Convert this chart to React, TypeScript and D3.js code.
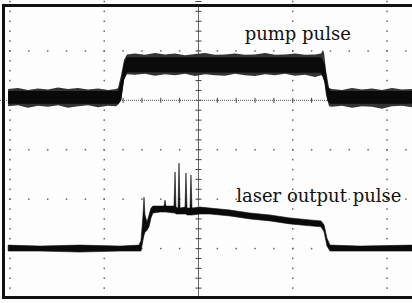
import React, { useRef, useEffect } from 'react';
import * as d3 from 'd3';

// time in screen divisions, amplitude in screen divisions (0 = marked horizontal axis)
const pumpT = [-0.02, 0.085, 0.19, 0.297, 0.403, 0.509, 0.615, 0.721, 0.828, 0.934, 1.04, 1.125, 1.146, 1.178, 1.21, 1.241,
  1.326, 1.432, 1.538, 1.645, 1.751, 1.857, 1.963, 2.069, 2.175, 2.281, 2.387, 2.493, 2.599, 2.706, 2.812, 2.918, 3.024,
  3.13, 3.236, 3.3, 3.321, 3.332, 3.353, 3.385, 3.416, 3.522, 3.629, 3.735, 3.841, 3.947, 4.053, 4.159, 4.265];
const pumpHi = [0.23, 0.25, 0.21, 0.24, 0.22, 0.26, 0.23, 0.25, 0.22, 0.24, 0.21, 0.23, 0.25, 0.51, 0.82, 0.93,
  0.95, 0.92, 0.96, 0.93, 0.95, 0.91, 0.94, 0.96, 0.92, 0.93, 0.95, 0.92, 0.93, 0.96, 0.92, 0.93, 0.95,
  0.92, 0.93, 0.95, 1.02, 0.96, 0.61, 0.25, 0.23, 0.21, 0.25, 0.22, 0.24, 0.21, 0.25, 0.22, 0.23];
const pumpLo = [-0.12, -0.1, -0.15, -0.11, -0.13, -0.1, -0.15, -0.12, -0.1, -0.14, -0.11, -0.12, -0.09, -0.01, 0.41, 0.53,
  0.52, 0.54, 0.5, 0.53, 0.51, 0.54, 0.49, 0.53, 0.51, 0.5, 0.54, 0.51, 0.49, 0.53, 0.51, 0.54, 0.5,
  0.52, 0.47, 0.51, 0.49, 0.41, 0.11, -0.12, -0.13, -0.11, -0.15, -0.12, -0.13, -0.17, -0.12, -0.11, -0.14];

// dense core of the pump trace
const pumpCoreT = [-0.02, 1.15, 1.18, 1.21, 1.24, 3.3, 3.34, 3.37, 3.4, 4.265];
const pumpCoreHi = [0.19, 0.19, 0.42, 0.75, 0.87, 0.87, 0.72, 0.3, 0.19, 0.19];
const pumpCoreLo = [-0.07, -0.07, 0.0, 0.42, 0.57, 0.56, 0.35, -0.02, -0.07, -0.07];

const laserT = [-0.02, 0.32, 0.74, 1.17, 1.37, 1.39, 1.411, 1.422, 1.432, 1.454, 1.475, 1.496, 1.517, 1.592, 1.634, 1.645,
  1.655, 1.74, 1.751, 1.761, 1.783, 1.793, 1.804, 1.857, 1.867, 1.878, 1.91, 1.92, 1.931, 2.016, 2.122, 2.334,
  2.546, 2.759, 2.971, 3.183, 3.3, 3.332, 3.363, 3.395, 3.714, 4.265];
const laserHi = [-2.93, -2.95, -2.93, -2.95, -2.93, -2.83, -2.32, -1.96, -2.32, -2.46, -2.32, -2.18, -2.14, -2.14, -2.14, -2.02,
  -2.14, -2.14, -1.45, -2.16, -2.18, -1.27, -2.18, -2.16, -1.47, -2.18, -2.18, -1.51, -2.18, -2.16, -2.18, -2.22,
  -2.28, -2.32, -2.38, -2.42, -2.44, -2.52, -2.79, -2.93, -2.95, -2.93];
const laserLo = [-3.05, -3.05, -3.07, -3.05, -3.05, -3.05, -2.83, -2.73, -2.67, -2.63, -2.56, -2.38, -2.28, -2.26, -2.26, -2.26,
  -2.26, -2.28, -2.28, -2.3, -2.3, -2.3, -2.3, -2.3, -2.3, -2.32, -2.32, -2.32, -2.32, -2.3, -2.3, -2.34,
  -2.4, -2.44, -2.5, -2.54, -2.56, -2.66, -2.95, -3.05, -3.05, -3.05];

const gridCols = [0, 1, 3, 4];
const gridRows = [1, -1, -2, -3];
const labels = [
  { text: 'pump pulse', t: 2.49, v: 1.22 },
  { text: 'laser output pulse', t: 2.4, v: -2.05 },
];

const App = () => {
  const svgRef = useRef(null);

  useEffect(() => {
    document.body.style.margin = '0';
    const width = 412;
    const height = 303;
    const svg = d3.select(svgRef.current);
    svg.selectAll('*').remove();
    svg.attr('width', width).attr('height', height);

    const x = d3.scaleLinear().domain([0, 4]).range([10, 387]);
    const y = d3.scaleLinear().domain([2, -4]).range([1.5, 298]);

    svg.append('rect').attr('width', width).attr('height', height).attr('fill', '#fdfdfd');

    const minorT = d3.range(-0.2, 4.4, 0.2);
    const minorV = d3.range(2, -4.01, -0.2);

    // dotted grid columns
    gridCols.forEach(c => {
      svg.append('g').selectAll('rect').data(minorV).join('rect')
        .attr('x', x(c) - 0.75).attr('y', d => y(d) - 0.75)
        .attr('width', 1.5).attr('height', 1.5).attr('fill', '#666');
    });
    // dotted grid rows
    gridRows.forEach(r => {
      svg.append('g').selectAll('rect').data(minorT).join('rect')
        .attr('x', d => x(d) - 0.75).attr('y', y(r) - 0.75)
        .attr('width', 1.5).attr('height', 1.5).attr('fill', '#666');
    });

    // marked axes
    svg.append('line').attr('x1', 0).attr('x2', width).attr('y1', y(0)).attr('y2', y(0))
      .attr('stroke', '#555').attr('stroke-dasharray', '1,1');
    svg.append('g').selectAll('line').data(minorT).join('line')
      .attr('x1', d => x(d)).attr('x2', d => x(d)).attr('y1', y(0) - 2.5).attr('y2', y(0) + 2.5)
      .attr('stroke', '#444');
    svg.append('line').attr('x1', x(2)).attr('x2', x(2)).attr('y1', 5).attr('y2', 297)
      .attr('stroke', '#666');
    svg.append('g').selectAll('line').data(minorV).join('line')
      .attr('x1', x(2) - 3).attr('x2', x(2) + 3).attr('y1', d => y(d)).attr('y2', d => y(d))
      .attr('stroke', '#444');

    const band = (ts, hi, lo) => d3.area()
      .x((d, i) => x(ts[i]))
      .y0((d, i) => y(lo[i]))
      .y1((d, i) => y(hi[i]))(ts);

    svg.append('path').attr('d', band(pumpT, pumpHi, pumpLo)).attr('fill', '#333');
    svg.append('path').attr('d', band(pumpCoreT, pumpCoreHi, pumpCoreLo)).attr('fill', '#0a0a0a');
    svg.append('path').attr('d', band(laserT, laserHi, laserLo)).attr('fill', '#0a0a0a')
      .attr('stroke', '#111').attr('stroke-width', 0.6);

    svg.append('g').selectAll('text').data(labels).join('text')
      .attr('x', d => x(d.t)).attr('y', d => y(d.v))
      .attr('font-family', 'DejaVu Serif')
      .attr('font-size', 18)
      .attr('fill', '#111')
      .text(d => d.text);

    // screen frame (right side is cut off)
    svg.append('line').attr('x1', 2).attr('x2', width).attr('y1', 5.5).attr('y2', 5.5)
      .attr('stroke', '#111').attr('stroke-width', 3);
    svg.append('line').attr('x1', 2).attr('x2', width).attr('y1', 297.5).attr('y2', 297.5)
      .attr('stroke', '#111').attr('stroke-width', 3);
    svg.append('line').attr('x1', 3.5).attr('x2', 3.5).attr('y1', 4).attr('y2', 299)
      .attr('stroke', '#111').attr('stroke-width', 3);
  }, []);

  return <svg ref={svgRef}></svg>;
};

export default App;
